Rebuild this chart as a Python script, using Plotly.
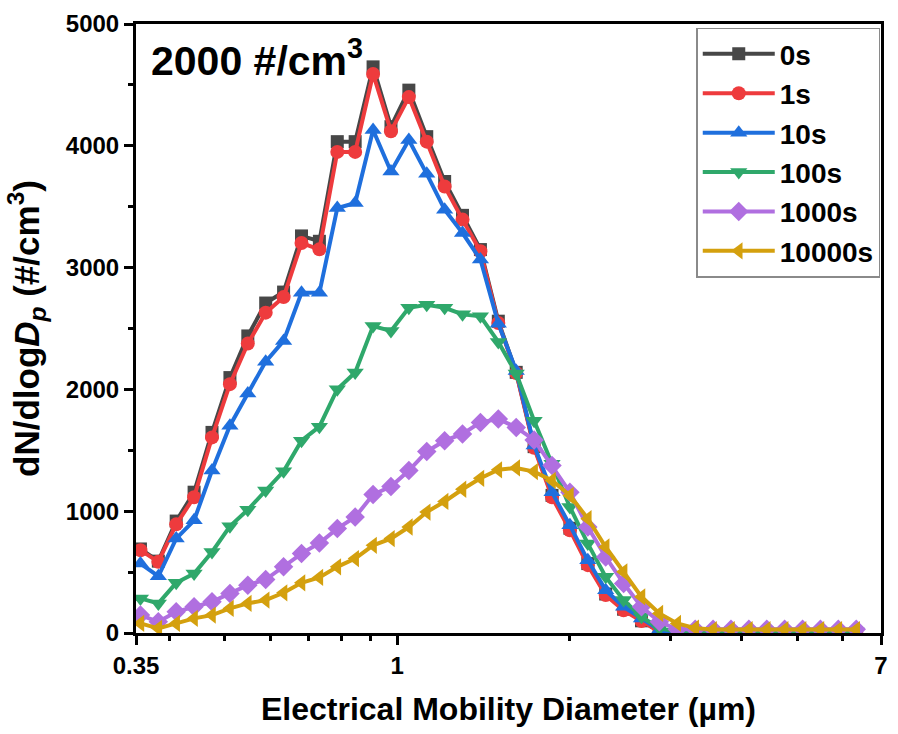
import plotly.graph_objects as go

# Electrical mobility diameter bin midpoints (µm), 32 channels per decade
diameter = [0.3563, 0.3829, 0.4114, 0.4421, 0.4751, 0.5106, 0.5487, 0.5896,
            0.6336, 0.6809, 0.7317, 0.7863, 0.8449, 0.9080, 0.9757, 1.0485,
            1.1267, 1.2108, 1.3011, 1.3982, 1.5025, 1.6146, 1.7351, 1.8646,
            2.0037, 2.1532, 2.3138, 2.4865, 2.6720, 2.8713, 3.0856, 3.3158,
            3.5632, 3.8290, 4.1147, 4.4217, 4.7516, 5.1061, 5.4871, 5.8965,
            6.3364]

# dN/dlogDp (#/cm3) at each elapsed time
t_0s = [690, 590, 919, 1156, 1647, 2097, 2439, 2709, 2799, 3260, 3216, 4034,
        4034, 4648, 4157, 4457, 4075, 3707, 3429, 3148, 2560, 2140, 1530, 1130,
        860, 570, 320, 195, 100, 12, 3, 2, 2, 2, 2, 2, 2, 2, 2, 2, 2]
t_1s = [680, 584, 892, 1115, 1606, 2043, 2376, 2630, 2758, 3202, 3150, 3950,
        3950, 4590, 4120, 4400, 4034, 3666, 3394, 3134, 2545, 2135, 1520, 1115,
        844, 557, 311, 186, 98, 10, 2, 2, 2, 2, 2, 2, 2, 2, 2, 2, 2]
t_10s = [570, 466, 775, 925, 1334, 1702, 1966, 2228, 2398, 2793, 2793, 3489,
         3530, 4130, 3789, 4048, 3770, 3475, 3284, 3066, 2540, 2152, 1540, 1156,
         884, 597, 352, 215, 120, 25, 5, 5, 5, 5, 5, 5, 5, 5, 5, 5, 5]
t_100s = [284, 243, 412, 488, 665, 876, 1012, 1170, 1328, 1579, 1694, 2002,
          2138, 2520, 2480, 2670, 2695, 2670, 2616, 2600, 2390, 2130, 1743, 1389,
          1034, 734, 461, 270, 133, 38, 12, 12, 12, 12, 12, 12, 12, 12, 12, 12, 12]
t_1000s = [147, 92, 174, 215, 256, 325, 393, 439, 543, 652, 739, 857, 952,
           1137, 1203, 1334, 1490, 1579, 1634, 1729, 1757, 1688, 1585, 1375,
           1156, 870, 624, 407, 215, 92, 30, 30, 30, 30, 30, 30, 30, 30, 30, 30, 30]
t_10000s = [79, 38, 79, 120, 147, 202, 243, 270, 330, 412, 456, 543, 611, 720,
            775, 870, 993, 1080, 1180, 1270, 1340, 1355, 1325, 1252, 1129, 939,
            706, 502, 297, 161, 79, 40, 28, 28, 28, 28, 28, 28, 28, 28, 28]

series_names = ["0s", "1s", "10s", "100s", "1000s", "10000s"]
series_values = [t_0s, t_1s, t_10s, t_100s, t_1000s, t_10000s]
colors = ["#474747", "#ee3b3d", "#1f6fdd", "#2fa86b", "#b06fe0", "#d4a00e"]
symbols = ["square", "circle", "triangle-up", "triangle-down", "diamond", "triangle-left"]
marker_sizes = [13, 14, 15, 15, 15, 15]

x_major = [0.35, 1, 7]
x_major_text = ["0.35", "1", "7"]
x_minor = [0.4, 0.5, 0.6, 0.7, 0.8, 0.9, 2, 3, 4, 5, 6]

FONT = "Liberation Sans, Arial, sans-serif"

fig = go.Figure()
for i, (name, vals) in enumerate(zip(series_names, series_values)):
    fig.add_trace(go.Scatter(
        x=diameter, y=vals, name=name, mode="lines+markers",
        legendgroup=name,
        line=dict(color=colors[i], width=4),
        marker=dict(symbol=symbols[i], size=marker_sizes[i], color=colors[i],
                    line=dict(width=0)),
    ))

fig.add_annotation(
    text="2000 #/cm<sup>3</sup>", xref="paper", yref="paper",
    x=0.018, y=0.99, xanchor="left", yanchor="top", showarrow=False,
    font=dict(family=FONT, size=41, color="black", weight="bold"),
)

fig.update_xaxes(
    type="log", range=[-0.45593, 0.845098],
    tickmode="array", tickvals=x_major, ticktext=x_major_text,
    ticks="outside", ticklen=9, tickwidth=2.5, tickcolor="black",
    minor=dict(tickmode="array", tickvals=x_minor, ticks="outside",
               ticklen=5, tickwidth=2.5, tickcolor="black"),
    showline=True, linewidth=3, linecolor="black", mirror=True,
    showgrid=False, zeroline=False,
    tickfont=dict(family=FONT, size=24, color="black", weight="bold"),
    title=dict(text="Electrical Mobility Diameter (µm)", standoff=20,
               font=dict(family=FONT, size=32, color="black", weight="bold")),
)
fig.update_yaxes(
    range=[0, 5000], tickmode="linear", tick0=0, dtick=1000,
    ticks="outside", ticklen=9, tickwidth=2.5, tickcolor="black",
    minor=dict(dtick=500, ticks="outside", ticklen=5, tickwidth=2.5,
               tickcolor="black"),
    showline=True, linewidth=3, linecolor="black", mirror=True,
    showgrid=False, zeroline=False,
    tickfont=dict(family=FONT, size=24, color="black", weight="bold"),
    title=dict(text="dN/dlog<i>D<sub>p</sub></i> (#/cm<sup>3</sup>)", standoff=16,
               font=dict(family=FONT, size=35, color="black", weight="bold")),
)

fig.update_layout(
    width=898, height=734,
    margin=dict(l=136, r=10, t=22, b=101),
    plot_bgcolor="white", paper_bgcolor="white",
    legend=dict(
        x=0.999, y=0.994, xanchor="right", yanchor="top",
        bgcolor="white", bordercolor="#8a8a8a", borderwidth=1.5,
        font=dict(family=FONT, size=28, color="black", weight="bold"),
        tracegroupgap=0, itemwidth=72,
    ),
)

fig.write_html("out.html")
